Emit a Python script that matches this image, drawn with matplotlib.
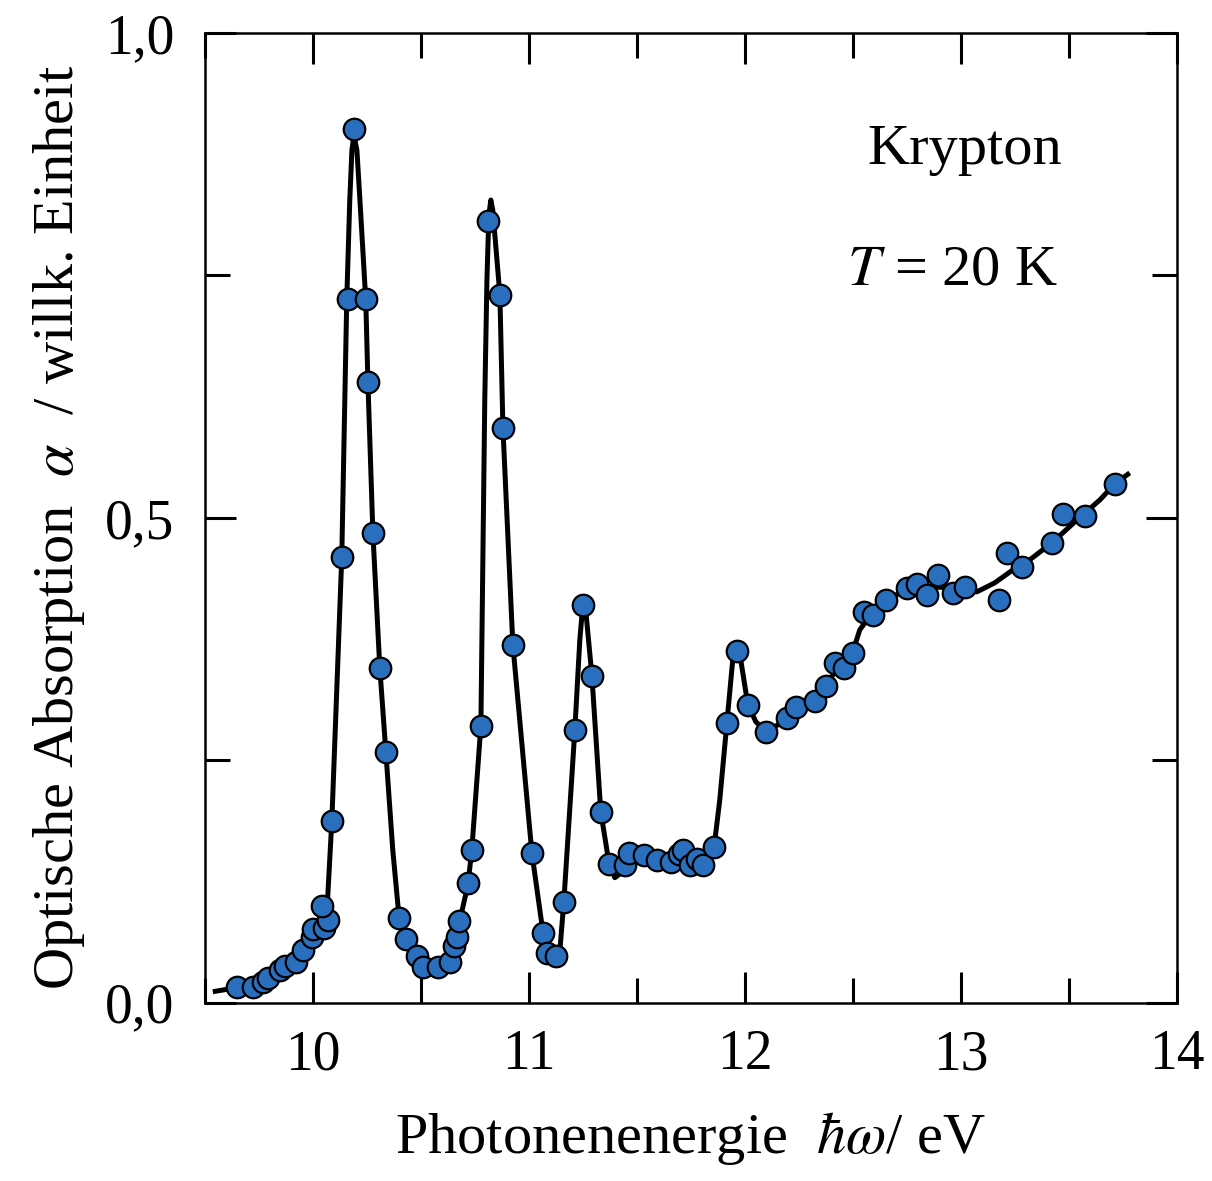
import numpy as np
import matplotlib.pyplot as plt
from matplotlib.ticker import MultipleLocator, FuncFormatter

# measured absorption points (photon energy in eV, arbitrary units)
energy = [9.648, 9.722, 9.769, 9.792, 9.847, 9.870, 9.921, 9.954, 9.995, 10.000,
          10.051, 10.069, 10.042, 10.088, 10.134, 10.162, 10.190, 10.245, 10.255, 10.278,
          10.310, 10.338, 10.398, 10.431, 10.481, 10.509, 10.579, 10.634, 10.653, 10.667,
          10.676, 10.718, 10.736, 10.778, 10.810, 10.866, 10.880, 10.926, 11.014, 11.065,
          11.083, 11.125, 11.162, 11.213, 11.250, 11.292, 11.333, 11.370, 11.444, 11.463,
          11.532, 11.593, 11.657, 11.694, 11.713, 11.745, 11.778, 11.806, 11.856, 11.917,
          11.963, 12.014, 12.097, 12.194, 12.236, 12.324, 12.375, 12.417, 12.458, 12.500,
          12.551, 12.593, 12.653, 12.750, 12.796, 12.843, 12.894, 12.963, 13.019, 13.176,
          13.213, 13.282, 13.421, 13.472, 13.574, 13.713]
absorption = [0.0165, 0.0165, 0.0216, 0.0258, 0.0340, 0.0381, 0.0423, 0.0546, 0.0680, 0.0763,
              0.0773, 0.0856, 0.1000, 0.1876, 0.4598, 0.7258, 0.9010, 0.7258, 0.6402, 0.4845,
              0.3454, 0.2588, 0.0876, 0.0660, 0.0485, 0.0371, 0.0371, 0.0423, 0.0588, 0.0680,
              0.0845, 0.1237, 0.1577, 0.2856, 0.8062, 0.7299, 0.5928, 0.3691, 0.1546, 0.0722,
              0.0515, 0.0485, 0.1041, 0.2814, 0.4103, 0.3371, 0.1969, 0.1433, 0.1423, 0.1546,
              0.1526, 0.1474, 0.1454, 0.1536, 0.1577, 0.1423, 0.1485, 0.1423, 0.1608, 0.2887,
              0.3629, 0.3072, 0.2794, 0.2938, 0.3052, 0.3113, 0.3268, 0.3505, 0.3454, 0.3608,
              0.4031, 0.4000, 0.4155, 0.4278, 0.4320, 0.4206, 0.4412, 0.4227, 0.4289, 0.4155,
              0.4639, 0.4495, 0.4742, 0.5041, 0.5021, 0.5351]

# smoothed curve through the data
curve_energy = [9.537, 9.648, 9.769, 9.870, 9.954, 10.009, 10.051, 10.069, 10.088, 10.134,
                10.157, 10.171, 10.181, 10.190, 10.204, 10.218, 10.245, 10.255, 10.278, 10.310,
                10.338, 10.370, 10.398, 10.431, 10.481, 10.542, 10.611, 10.644, 10.676, 10.718,
                10.736, 10.778, 10.796, 10.806, 10.815, 10.824, 10.833, 10.866, 10.880, 10.926,
                11.014, 11.065, 11.097, 11.125, 11.144, 11.162, 11.213, 11.236, 11.250, 11.264,
                11.292, 11.333, 11.370, 11.398, 11.417, 11.444, 11.514, 11.606, 11.699, 11.792,
                11.856, 11.884, 11.917, 11.944, 11.963, 11.981, 12.014, 12.051, 12.097, 12.194,
                12.324, 12.417, 12.500, 12.532, 12.593, 12.653, 12.750, 12.856, 12.972, 13.074,
                13.157, 13.241, 13.319, 13.421, 13.528, 13.644, 13.713, 13.782]
curve_absorption = [0.0113, 0.0155, 0.0216, 0.0351, 0.0515, 0.0680, 0.0856, 0.1093, 0.1876, 0.4598,
                    0.7247, 0.8278, 0.8794, 0.8948, 0.8794, 0.8278, 0.7247, 0.6402, 0.4845, 0.3454,
                    0.2588, 0.1577, 0.0907, 0.0649, 0.0464, 0.0381, 0.0423, 0.0546, 0.0804, 0.1216,
                    0.1577, 0.2856, 0.6216, 0.7454, 0.8124, 0.8278, 0.8175, 0.7299, 0.5928, 0.3691,
                    0.1546, 0.0732, 0.0495, 0.0443, 0.0546, 0.1041, 0.2814, 0.3742, 0.4103, 0.4031,
                    0.3371, 0.1969, 0.1454, 0.1289, 0.1320, 0.1454, 0.1515, 0.1485, 0.1526, 0.1474,
                    0.1577, 0.2093, 0.2887, 0.3536, 0.3660, 0.3536, 0.3072, 0.2897, 0.2794, 0.2918,
                    0.3103, 0.3412, 0.3619, 0.3845, 0.4031, 0.4155, 0.4258, 0.4289, 0.4278, 0.4237,
                    0.4330, 0.4464, 0.4567, 0.4742, 0.4959, 0.5186, 0.5351, 0.5464]

plt.rcParams['font.family'] = ['Liberation Serif', 'DejaVu Serif']
plt.rcParams['mathtext.fontset'] = 'stix'

fig = plt.figure(figsize=(12.12, 11.81), dpi=100)
ax = fig.add_axes([0.169, 0.151, 0.802, 0.821])

ax.plot(curve_energy, curve_absorption, color='black', lw=3.6,
        solid_joinstyle='round', solid_capstyle='butt', zorder=2)
ax.plot(energy, absorption, 'o', ms=15.5, mfc='#2a6fbd', mec='black', mew=1.6, zorder=3)

ax.set_xlim(9.5, 14.0)
ax.set_ylim(0.0, 1.0)
ax.xaxis.set_major_locator(MultipleLocator(1))
ax.xaxis.set_minor_locator(MultipleLocator(0.5))
ax.yaxis.set_major_locator(MultipleLocator(0.5))
ax.yaxis.set_minor_locator(MultipleLocator(0.25))
ax.yaxis.set_major_formatter(FuncFormatter(lambda v, p: f"{v:.1f}".replace('.', ',')))

ax.tick_params(which='both', direction='in', top=True, right=True, width=2.2,
               labelsize=40)
ax.tick_params(axis='x', pad=19)
ax.tick_params(axis='y', pad=22)
ax.tick_params(which='major', length=22)
ax.tick_params(which='minor', length=18)
for s in ax.spines.values():
    s.set_linewidth(1.8)

ax.set_xlabel(r"Photonenenergie  $\hbar\omega$/ eV", fontsize=42)
ax.set_ylabel(r"Optische Absorption  $\alpha$  / willk. Einheit", fontsize=42)
ax.xaxis.set_label_coords(0.5, -0.111)
ax.yaxis.set_label_coords(-0.121, 0.49)

ax.text(13.02, 0.879, "Krypton", fontsize=42, ha='center', va='center')
ax.text(12.96, 0.755, r"$T$ = 20 K", fontsize=42, ha='center', va='center')

fig.savefig("out.png", dpi=100)
